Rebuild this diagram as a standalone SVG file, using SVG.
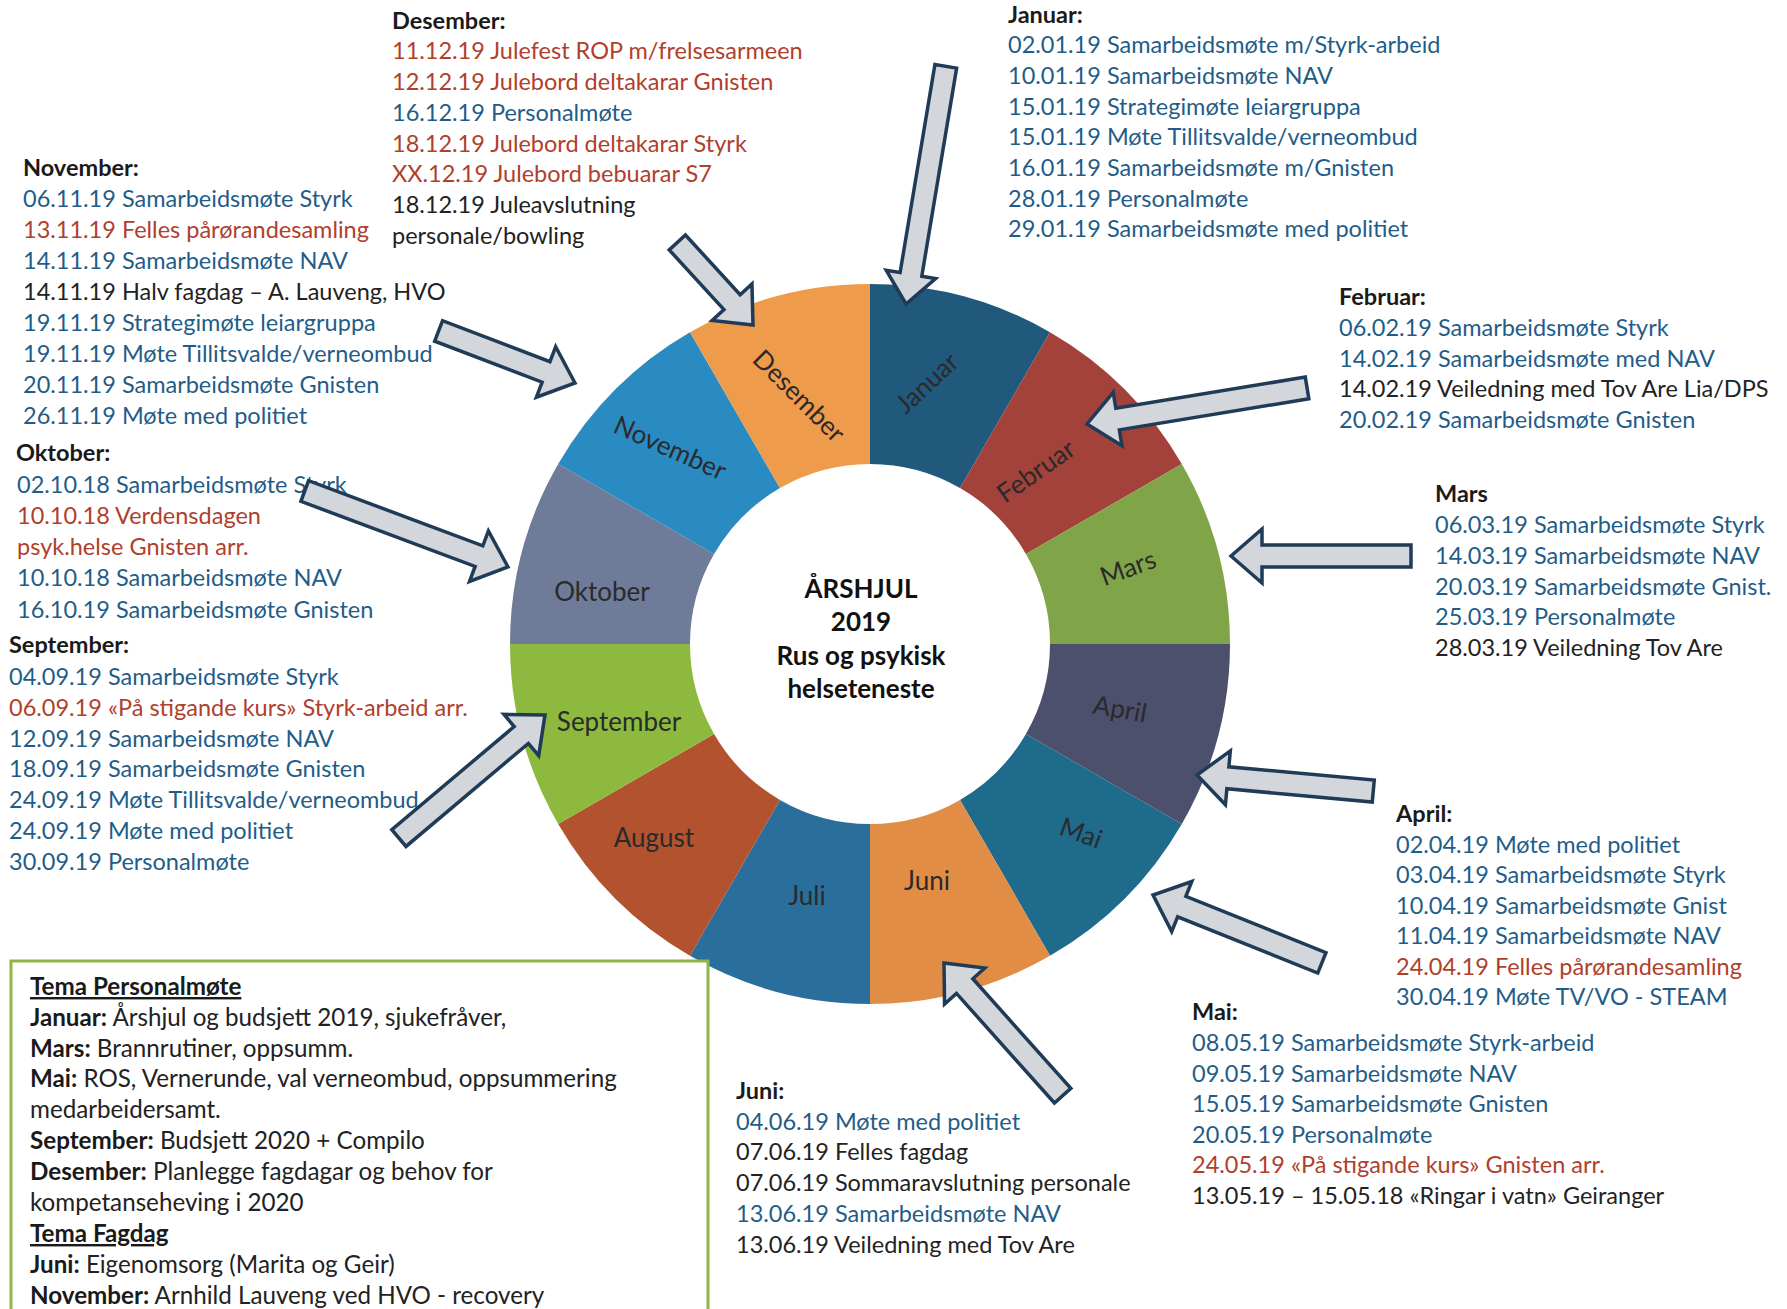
<svg xmlns="http://www.w3.org/2000/svg" width="1787" height="1309" viewBox="0 0 1787 1309">
<style>
text{font-family:Lato,"Liberation Sans",sans-serif;font-size:23.5px;fill:#222}
.h{font-weight:bold;fill:#1a1a1a}
.b{fill:#1f5d88}
.r{fill:#b0402b}
.k{fill:#222}
.seg text{font-size:26px;fill:#2a2a2a;text-anchor:middle}
.ctr{font-weight:bold;font-size:26px;text-anchor:middle;fill:#111}
.arrow{fill:#d3d6da;stroke:#1f3b57;stroke-width:3.5;stroke-linejoin:miter}
.u{text-decoration:underline}
#tema text{font-size:24.2px}
</style>
<rect width="1787" height="1309" fill="#fff"/>

<g id="wheel" class="seg">
<path d="M870,284 A360,360 0 0 1 1050,332.2 L960,488.1 A180,180 0 0 0 870,464 Z" fill="#21597d"/>
<path d="M1050,332.2 A360,360 0 0 1 1181.8,464 L1025.9,554 A180,180 0 0 0 960,488.1 Z" fill="#a2423a"/>
<path d="M1181.8,464 A360,360 0 0 1 1230,644 L1050,644 A180,180 0 0 0 1025.9,554 Z" fill="#80a548"/>
<path d="M1230,644 A360,360 0 0 1 1181.8,824 L1025.9,734 A180,180 0 0 0 1050,644 Z" fill="#4d506c"/>
<path d="M1181.8,824 A360,360 0 0 1 1050,955.8 L960,799.9 A180,180 0 0 0 1025.9,734 Z" fill="#1e6b8b"/>
<path d="M1050,955.8 A360,360 0 0 1 870,1004 L870,824 A180,180 0 0 0 960,799.9 Z" fill="#e28d45"/>
<path d="M870,1004 A360,360 0 0 1 690,955.8 L780,799.9 A180,180 0 0 0 870,824 Z" fill="#2a6f9c"/>
<path d="M690,955.8 A360,360 0 0 1 558.2,824 L714.1,734 A180,180 0 0 0 780,799.9 Z" fill="#b3522f"/>
<path d="M558.2,824 A360,360 0 0 1 510,644 L690,644 A180,180 0 0 0 714.1,734 Z" fill="#8dba3e"/>
<path d="M510,644 A360,360 0 0 1 558.2,464 L714.1,554 A180,180 0 0 0 690,644 Z" fill="#6e7b99"/>
<path d="M558.2,464 A360,360 0 0 1 690,332.2 L780,488.1 A180,180 0 0 0 714.1,554 Z" fill="#2a8bc2"/>
<path d="M690,332.2 A360,360 0 0 1 870,284 L870,464 A180,180 0 0 0 780,488.1 Z" fill="#ef9b4c"/>
<text transform="translate(927,383) rotate(-43)" y="9">Januar</text>
<text transform="translate(1036,471) rotate(-35)" y="9">Februar</text>
<text transform="translate(1128,568) rotate(-20)" y="9">Mars</text>
<text transform="translate(1120,709) rotate(10)" y="9">April</text>
<text transform="translate(1081,833) rotate(20)" y="9">Mai</text>
<text transform="translate(927,881)" y="9">Juni</text>
<text transform="translate(807,896)" y="9">Juli</text>
<text transform="translate(654,838)" y="9">August</text>
<text transform="translate(619,722)" y="9">September</text>
<text transform="translate(602,592)" y="9">Oktober</text>
<text transform="translate(670,448) rotate(24)" y="9">November</text>
<text transform="translate(799,396) rotate(45)" y="9">Desember</text>
</g>

<g id="center">
<text class="ctr" x="861" y="598">ÅRSHJUL</text>
<text class="ctr" x="861" y="631">2019</text>
<text class="ctr" x="861" y="665">Rus og psykisk</text>
<text class="ctr" x="861" y="698">helseteneste</text>
</g>

<g id="desember">
<text class="h" x="392" y="28.5">Desember:</text>
<text class="r" x="392" y="59.3">11.12.19 Julefest ROP m/frelsesarmeen</text>
<text class="r" x="392" y="90">12.12.19 Julebord deltakarar Gnisten</text>
<text class="b" x="392" y="120.8">16.12.19 Personalmøte</text>
<text class="r" x="392" y="151.6">18.12.19 Julebord deltakarar Styrk</text>
<text class="r" x="392" y="182.4">XX.12.19 Julebord bebuarar S7</text>
<text class="k" x="392" y="213.1">18.12.19 Juleavslutning</text>
<text class="k" x="392" y="243.9">personale/bowling</text>
</g>

<g id="januar">
<text class="h" x="1008" y="22.5">Januar:</text>
<text class="b" x="1008" y="53.2">02.01.19 Samarbeidsmøte m/Styrk-arbeid</text>
<text class="b" x="1008" y="83.9">10.01.19 Samarbeidsmøte NAV</text>
<text class="b" x="1008" y="114.6">15.01.19 Strategimøte leiargruppa</text>
<text class="b" x="1008" y="145.3">15.01.19 Møte Tillitsvalde/verneombud</text>
<text class="b" x="1008" y="176">16.01.19 Samarbeidsmøte m/Gnisten</text>
<text class="b" x="1008" y="206.7">28.01.19 Personalmøte</text>
<text class="b" x="1008" y="237.4">29.01.19 Samarbeidsmøte med politiet</text>
</g>

<g id="november">
<text class="h" x="23" y="175.5">November:</text>
<text class="b" x="23" y="206.5">06.11.19 Samarbeidsmøte Styrk</text>
<text class="r" x="23" y="237.5">13.11.19 Felles pårørandesamling</text>
<text class="b" x="23" y="268.5">14.11.19 Samarbeidsmøte NAV</text>
<text class="k" x="23" y="299.5">14.11.19 Halv fagdag – A. Lauveng, HVO</text>
<text class="b" x="23" y="330.5">19.11.19 Strategimøte leiargruppa</text>
<text class="b" x="23" y="361.5">19.11.19 Møte Tillitsvalde/verneombud</text>
<text class="b" x="23" y="392.5">20.11.19 Samarbeidsmøte Gnisten</text>
<text class="b" x="23" y="423.5">26.11.19 Møte med politiet</text>
</g>

<g id="oktober">
<text class="h" x="16" y="460.5">Oktober:</text>
<text class="b" x="17" y="492.5">02.10.18 Samarbeidsmøte Styrk</text>
<text class="r" x="17" y="523.5">10.10.18 Verdensdagen</text>
<text class="r" x="17" y="554.5">psyk.helse Gnisten arr.</text>
<text class="b" x="17" y="586">10.10.18 Samarbeidsmøte NAV</text>
<text class="b" x="17" y="617.5">16.10.19 Samarbeidsmøte Gnisten</text>
</g>

<g id="september">
<text class="h" x="9" y="653">September:</text>
<text class="b" x="9" y="685">04.09.19 Samarbeidsmøte Styrk</text>
<text class="r" x="9" y="716">06.09.19 «På stigande kurs» Styrk-arbeid arr.</text>
<text class="b" x="9" y="746.5">12.09.19 Samarbeidsmøte NAV</text>
<text class="b" x="9" y="777">18.09.19 Samarbeidsmøte Gnisten</text>
<text class="b" x="9" y="807.5">24.09.19 Møte Tillitsvalde/verneombud</text>
<text class="b" x="9" y="838.5">24.09.19 Møte med politiet</text>
<text class="b" x="9" y="869.5">30.09.19 Personalmøte</text>
</g>

<g id="februar">
<text class="h" x="1339" y="305">Februar:</text>
<text class="b" x="1339" y="336">06.02.19 Samarbeidsmøte Styrk</text>
<text class="b" x="1339" y="366.5">14.02.19 Samarbeidsmøte med NAV</text>
<text class="k" x="1339" y="397">14.02.19 Veiledning med Tov Are Lia/DPS</text>
<text class="b" x="1339" y="427.5">20.02.19 Samarbeidsmøte Gnisten</text>
</g>

<g id="mars">
<text class="h" x="1435" y="502">Mars</text>
<text class="b" x="1435" y="533">06.03.19 Samarbeidsmøte Styrk</text>
<text class="b" x="1435" y="564">14.03.19 Samarbeidsmøte NAV</text>
<text class="b" x="1435" y="594.5">20.03.19 Samarbeidsmøte Gnist.</text>
<text class="b" x="1435" y="625">25.03.19 Personalmøte</text>
<text class="k" x="1435" y="655.5">28.03.19 Veiledning Tov Are</text>
</g>

<g id="april">
<text class="h" x="1396" y="821.5">April:</text>
<text class="b" x="1396" y="852.5">02.04.19 Møte med politiet</text>
<text class="b" x="1396" y="883">03.04.19 Samarbeidsmøte Styrk</text>
<text class="b" x="1396" y="913.5">10.04.19 Samarbeidsmøte Gnist</text>
<text class="b" x="1396" y="944">11.04.19 Samarbeidsmøte NAV</text>
<text class="r" x="1396" y="974.5">24.04.19 Felles pårørandesamling</text>
<text class="b" x="1396" y="1005">30.04.19 Møte TV/VO - STEAM</text>
</g>

<g id="mai">
<text class="h" x="1192" y="1020">Mai:</text>
<text class="b" x="1192" y="1051">08.05.19 Samarbeidsmøte Styrk-arbeid</text>
<text class="b" x="1192" y="1081.5">09.05.19 Samarbeidsmøte NAV</text>
<text class="b" x="1192" y="1112">15.05.19 Samarbeidsmøte Gnisten</text>
<text class="b" x="1192" y="1142.5">20.05.19 Personalmøte</text>
<text class="r" x="1192" y="1173">24.05.19 «På stigande kurs» Gnisten arr.</text>
<text class="k" x="1192" y="1204">13.05.19 – 15.05.18 «Ringar i vatn» Geiranger</text>
</g>

<g id="juni">
<text class="h" x="736" y="1098.7">Juni:</text>
<text class="b" x="736" y="1129.5">04.06.19 Møte med politiet</text>
<text class="k" x="736" y="1160.3">07.06.19 Felles fagdag</text>
<text class="k" x="736" y="1191.1">07.06.19 Sommaravslutning personale</text>
<text class="b" x="736" y="1221.9">13.06.19 Samarbeidsmøte NAV</text>
<text class="k" x="736" y="1252.7">13.06.19 Veiledning med Tov Are</text>
</g>

<g id="tema">
<rect x="11" y="961" width="697" height="400" fill="#fff" stroke="#8db548" stroke-width="3"/>
<text class="h u" x="30" y="995">Tema Personalmøte</text>
<text x="30" y="1025.7"><tspan class="h">Januar:</tspan> Årshjul og budsjett 2019, sjukefråver,</text>
<text x="30" y="1056.5"><tspan class="h">Mars:</tspan> Brannrutiner, oppsumm.</text>
<text x="30" y="1087.3"><tspan class="h">Mai:</tspan> ROS, Vernerunde, val verneombud, oppsummering</text>
<text x="30" y="1118">medarbeidersamt.</text>
<text x="30" y="1149"><tspan class="h">September:</tspan> Budsjett 2020 + Compilo</text>
<text x="30" y="1180"><tspan class="h">Desember:</tspan> Planlegge fagdagar og behov for</text>
<text x="30" y="1211">kompetanseheving i 2020</text>
<text class="h u" x="30" y="1242">Tema Fagdag</text>
<text x="30" y="1273"><tspan class="h">Juni:</tspan> Eigenomsorg (Marita og Geir)</text>
<text x="30" y="1304"><tspan class="h">November:</tspan> Arnhild Lauveng ved HVO - recovery</text>
</g>

<g id="connectors">
<polygon class="arrow" transform="translate(906,304) rotate(99.5)" points="0,0 -30,-25 -30,-11 -241,-11 -241,11 -30,11 -30,25"/>
<polygon class="arrow" transform="translate(753,325) rotate(47.5)" points="0,0 -31,-27 -31,-11 -112,-11 -112,11 -31,11 -31,27"/>
<polygon class="arrow" transform="translate(575,383) rotate(20.9)" points="0,0 -31,-27 -31,-11 -146,-11 -146,11 -31,11 -31,27"/>
<polygon class="arrow" transform="translate(508,567) rotate(20.5)" points="0,0 -31,-27 -31,-11 -217,-11 -217,11 -31,11 -31,27"/>
<polygon class="arrow" transform="translate(545,715) rotate(-40.1)" points="0,0 -31,-27 -31,-11 -191,-11 -191,11 -31,11 -31,27"/>
<polygon class="arrow" transform="translate(1087,424) rotate(170.7)" points="0,0 -31,-27 -31,-11 -223,-11 -223,11 -31,11 -31,27"/>
<polygon class="arrow" transform="translate(1231,556) rotate(180)" points="0,0 -31,-27 -31,-11 -180,-11 -180,11 -31,11 -31,27"/>
<polygon class="arrow" transform="translate(1197,775) rotate(185.2)" points="0,0 -31,-27 -31,-11 -177,-11 -177,11 -31,11 -31,27"/>
<polygon class="arrow" transform="translate(1153,895) rotate(201.9)" points="0,0 -31,-27 -31,-11 -182,-11 -182,11 -31,11 -31,27"/>
<polygon class="arrow" transform="translate(944,963) rotate(228.2)" points="0,0 -31,-27 -31,-11 -178,-11 -178,11 -31,11 -31,27"/>
</g>
</svg>
